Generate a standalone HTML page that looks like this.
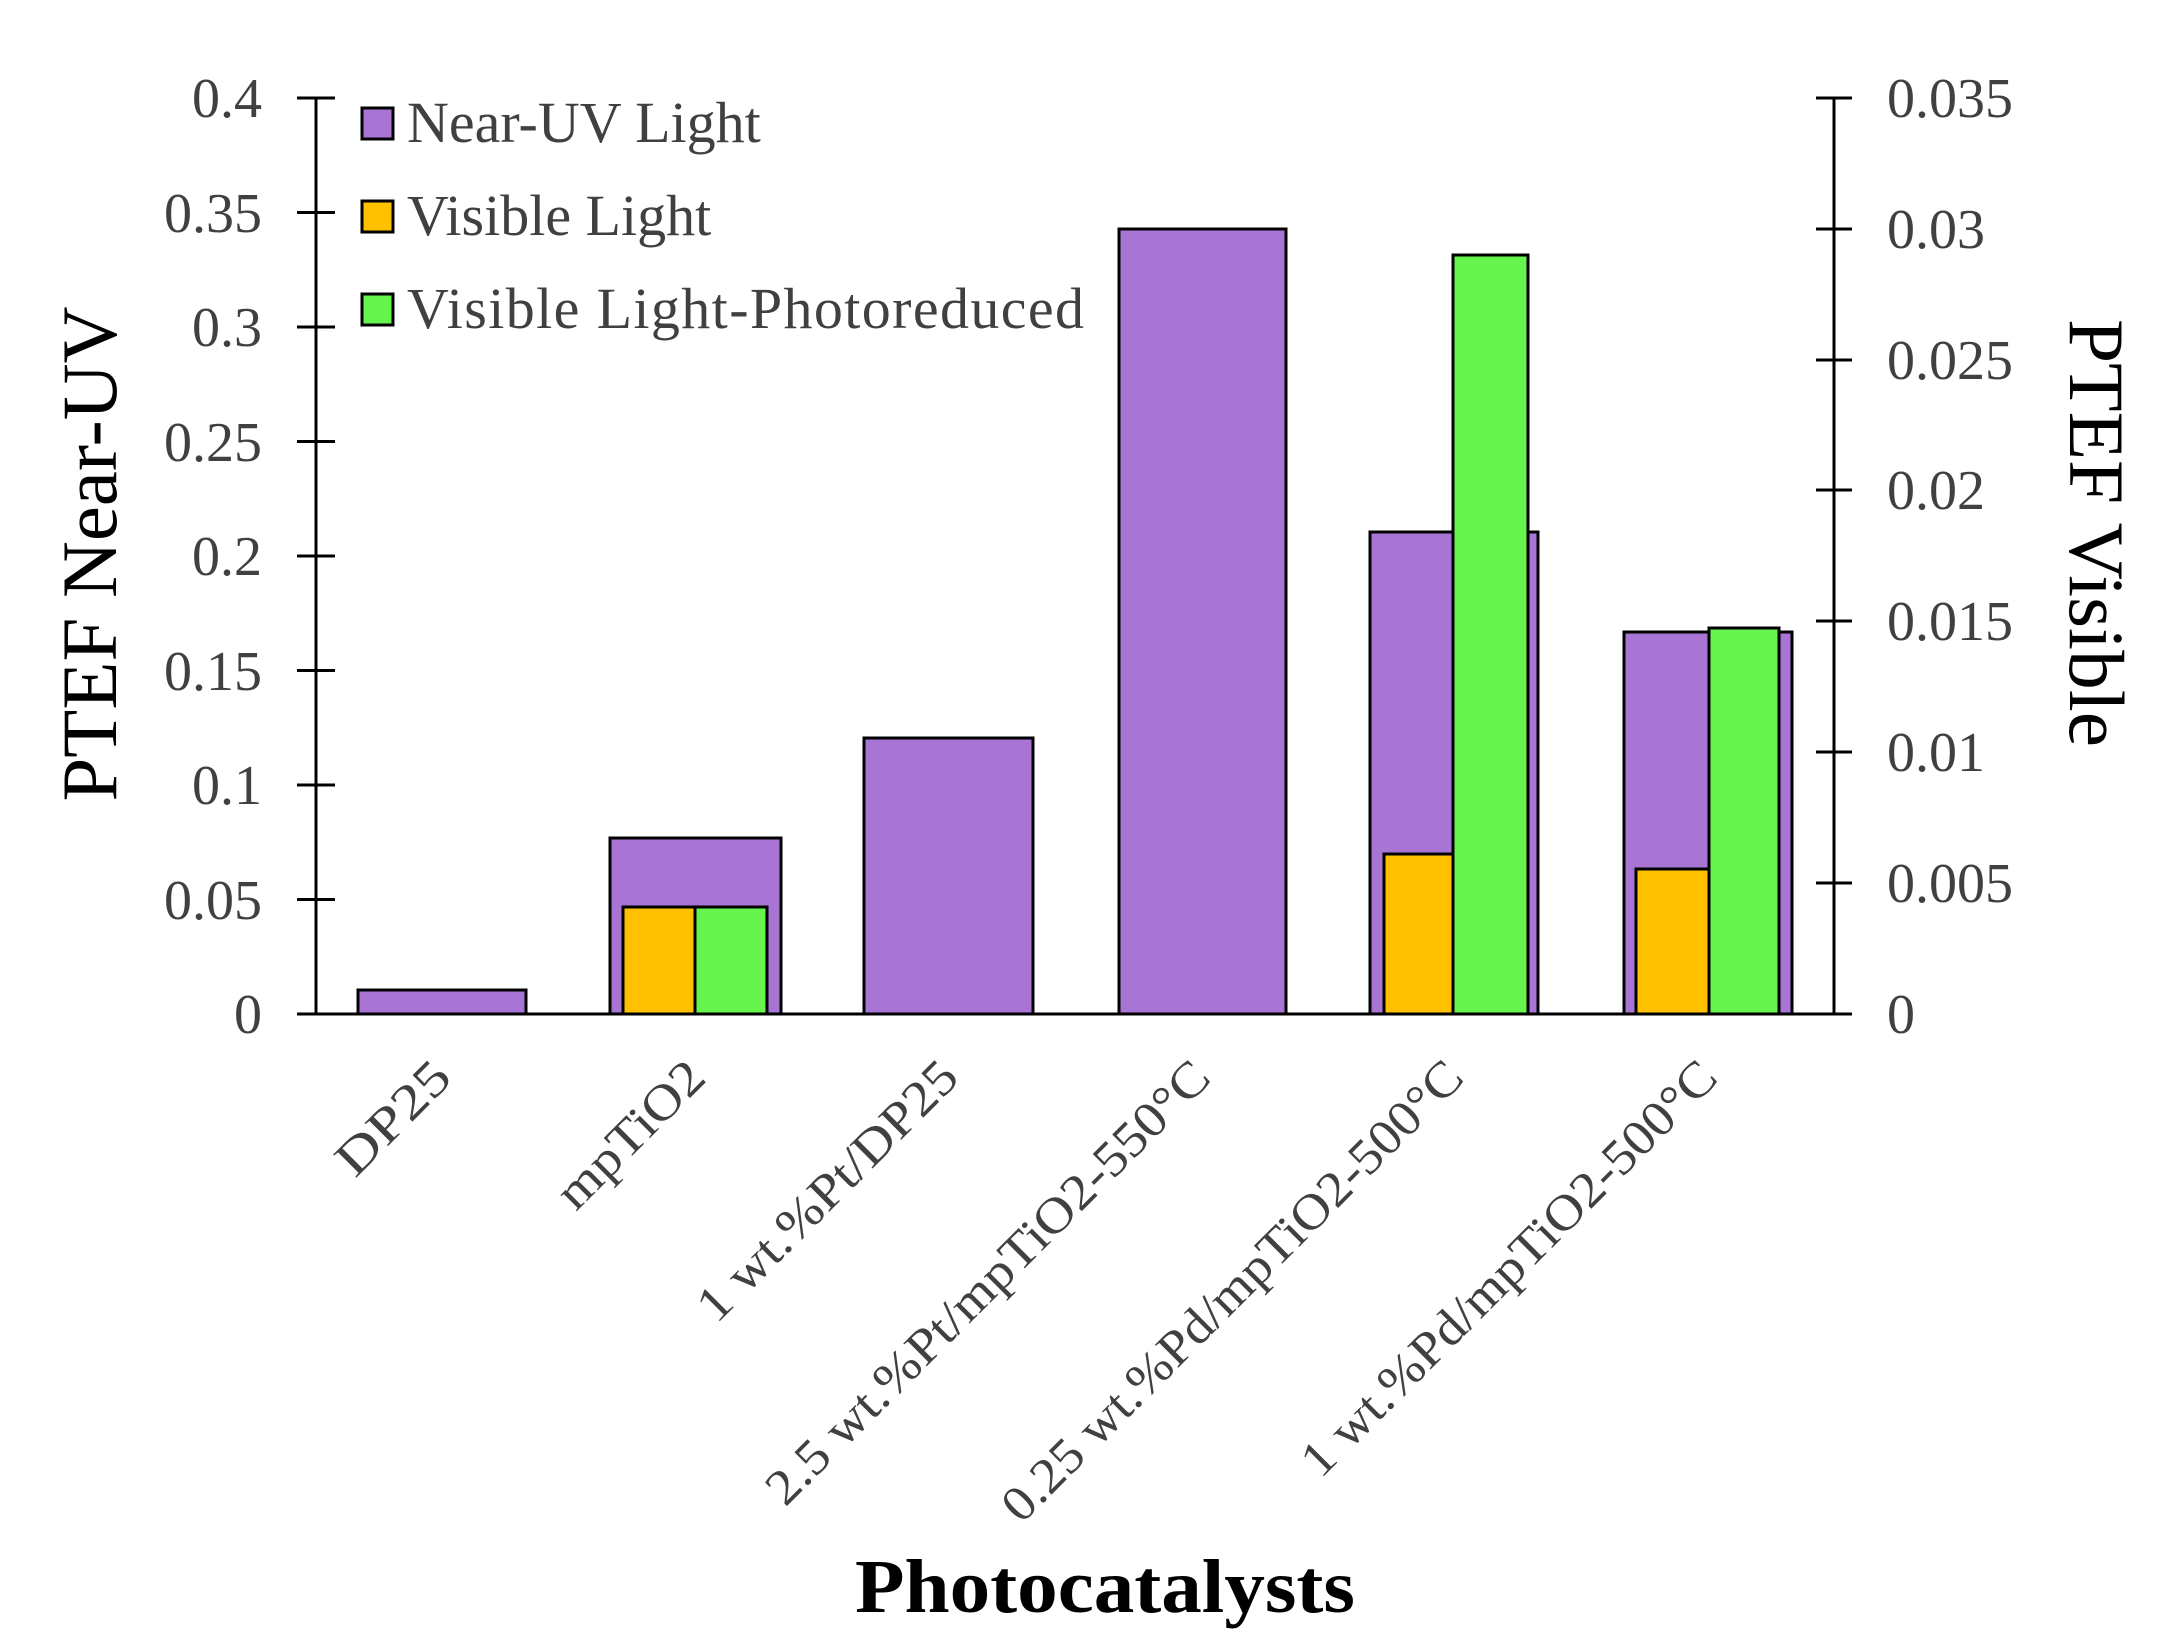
<!DOCTYPE html>
<html><head><meta charset="utf-8"><style>html,body{margin:0;padding:0;background:#fff}svg{display:block}</style></head>
<body>
<svg width="2182" height="1652" viewBox="0 0 2182 1652" xmlns="http://www.w3.org/2000/svg" font-family="Liberation Serif, serif">
<rect width="2182" height="1652" fill="#fff"/>
<g stroke="#000" stroke-width="3">
<rect x="358" y="990" width="168" height="24" fill="#a975d5"/>
<rect x="610" y="838" width="171" height="176" fill="#a975d5"/>
<rect x="623" y="907" width="72" height="107" fill="#ffc000"/>
<rect x="695" y="907" width="72" height="107" fill="#66f44e"/>
<rect x="864" y="738" width="169" height="276" fill="#a975d5"/>
<rect x="1119" y="229" width="167" height="785" fill="#a975d5"/>
<rect x="1370" y="532" width="168" height="482" fill="#a975d5"/>
<rect x="1384" y="854" width="69" height="160" fill="#ffc000"/>
<rect x="1453" y="255" width="75" height="759" fill="#66f44e"/>
<rect x="1624" y="632" width="168" height="382" fill="#a975d5"/>
<rect x="1636" y="869" width="73" height="145" fill="#ffc000"/>
<rect x="1709" y="628" width="70" height="386" fill="#66f44e"/>
<line x1="316" y1="98" x2="316" y2="1014"/>
<line x1="1834" y1="98" x2="1834" y2="1014"/>
<line x1="297" y1="1014" x2="1852" y2="1014"/>
<path d="M297 98H335M297 212.5H335M297 327H335M297 441.5H335M297 556H335M297 670.5H335M297 785H335M297 899.5H335"/>
<path d="M1816 98H1852M1816 229H1852M1816 360H1852M1816 490H1852M1816 621H1852M1816 752H1852M1816 883H1852"/>
<rect x="362" y="108" width="31" height="31" fill="#a975d5"/>
<rect x="362" y="201" width="31" height="31" fill="#ffc000"/>
<rect x="362" y="294" width="31" height="31" fill="#66f44e"/>
</g>
<g fill="#404040" font-size="56">
<g text-anchor="end">
<text x="262" y="117">0.4</text><text x="262" y="232">0.35</text><text x="262" y="346">0.3</text><text x="262" y="461">0.25</text><text x="262" y="575">0.2</text><text x="262" y="690">0.15</text><text x="262" y="804">0.1</text><text x="262" y="919">0.05</text><text x="262" y="1033">0</text>
</g>
<text x="1887" y="117">0.035</text><text x="1887" y="248">0.03</text><text x="1887" y="379">0.025</text><text x="1887" y="509">0.02</text><text x="1887" y="640">0.015</text><text x="1887" y="771">0.01</text><text x="1887" y="902">0.005</text><text x="1887" y="1033">0</text>
<text x="407" y="142" font-size="58">Near-UV Light</text>
<text x="407" y="235" font-size="58">Visible Light</text>
<text x="407" y="328" textLength="677" font-size="58">Visible Light-Photoreduced</text>
</g>
<g fill="#404040" font-size="50" text-anchor="end">
<text transform="translate(454,1080) rotate(-45)" textLength="140" lengthAdjust="spacingAndGlyphs">DP25</text>
<text transform="translate(708,1080) rotate(-45)" textLength="187" lengthAdjust="spacingAndGlyphs">mpTiO2</text>
<text transform="translate(961,1080) rotate(-45)" textLength="346" lengthAdjust="spacingAndGlyphs">1 wt.%Pt/DP25</text>
<text transform="translate(1213,1080) rotate(-45)" textLength="605" lengthAdjust="spacingAndGlyphs">2.5 wt.%Pt/mpTiO2-550°C</text>
<text transform="translate(1466,1080) rotate(-45)" textLength="629" lengthAdjust="spacingAndGlyphs">0.25 wt.%Pd/mpTiO2-500°C</text>
<text transform="translate(1720,1080) rotate(-45)" textLength="565" lengthAdjust="spacingAndGlyphs">1 wt.%Pd/mpTiO2-500°C</text>
</g>
<text transform="translate(116,554) rotate(-90)" text-anchor="middle" font-size="78" textLength="495" lengthAdjust="spacingAndGlyphs">PTEF Near-UV</text>
<text transform="translate(2070,533) rotate(90)" text-anchor="middle" font-size="78" textLength="428" lengthAdjust="spacingAndGlyphs">PTEF Visible</text>
<text x="1105" y="1612" text-anchor="middle" font-size="76" font-weight="bold" textLength="500" lengthAdjust="spacingAndGlyphs">Photocatalysts</text>
</svg>
</body></html>
